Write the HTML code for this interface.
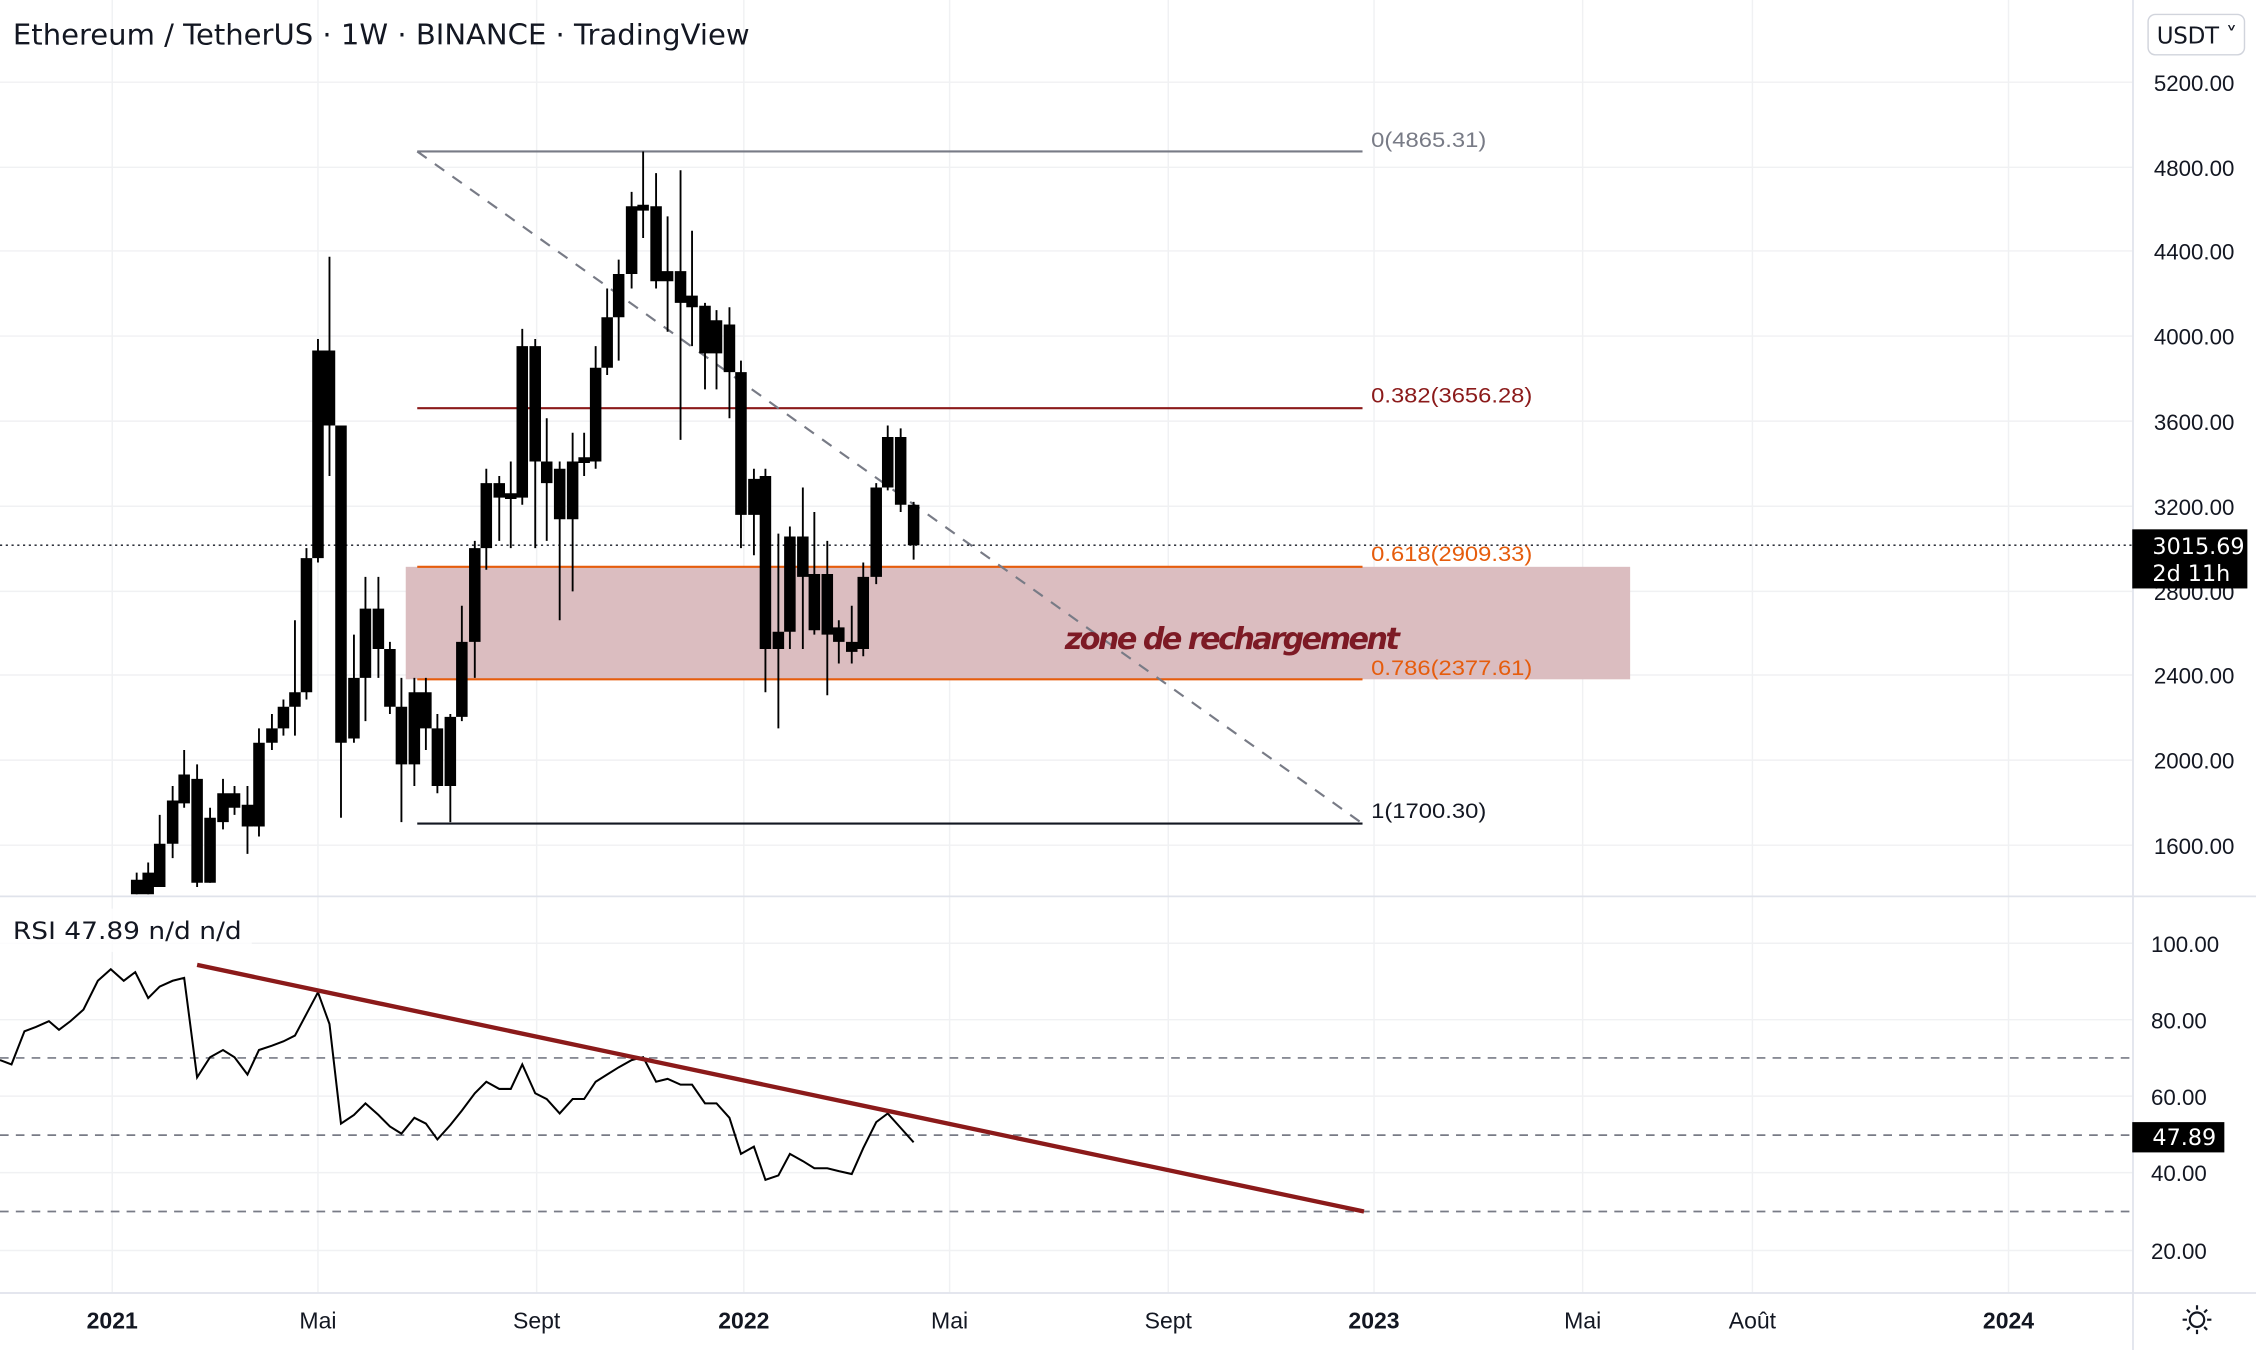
<!DOCTYPE html>
<html><head><meta charset="utf-8"><style>
html,body{margin:0;padding:0;background:#fff;}
svg{display:block;}
text{font-family:"Liberation Sans","DejaVu Sans",sans-serif;}
</style></head><body>
<svg width="2256" height="1350" viewBox="0 0 1568 936" preserveAspectRatio="none" xmlns="http://www.w3.org/2000/svg">
<rect width="1568" height="936" fill="#fff"/>
<g stroke="#f0f1f3" stroke-width="1">
<path d="M78 0V896M221 0V896M373 0V896M517 0V896M660 0V896M812 0V896M955 0V896M1100 0V896M1218 0V896M1396 0V896"/>
<path d="M0 57H1482M0 116H1482M0 174H1482M0 233H1482M0 292H1482M0 351H1482M0 410H1482M0 468H1482M0 527H1482M0 586H1482"/>
<path d="M0 654H1482M0 707H1482M0 760H1482M0 813H1482M0 867H1482"/>
</g>
<path d="M1482.5 0V936M0 621.5H1568M0 896.5H1568" stroke="#e0e3eb" stroke-width="1.2"/>
<rect x="282" y="393" width="851" height="78" fill="#d9b9bd" opacity="0.95"/>
<path d="M290 105H947" stroke="#787b86" stroke-width="1.5"/>
<path d="M290 283H947" stroke="#8b1a1a" stroke-width="1.5"/>
<path d="M290 393H947M290 471H947" stroke="#e65c0c" stroke-width="1.5"/>
<path d="M290 571H947" stroke="#131722" stroke-width="1.5"/>
<path d="M290 105L947 571" stroke="#787b86" stroke-width="1.5" stroke-dasharray="8,7"/>
<path d="M0 378H1482" stroke="#131722" stroke-width="1" stroke-dasharray="1.5,2.5"/>
<g stroke="#000" stroke-width="1.3" fill="none">
<path d="M95 605V620M103 598V620M111 565V615M120 545V595M128 520V560M137 530V615M146 560V612M155 540V575M163 545V565M172 545V592M180 505V580M189 495V520M197 485V510M205 430V510M213 380V485M221 235V390M229 178V330M237 295V567M246 440V515M254 400V500M263 400V470M271 445V495M279 470V570M288 470V545M296 470V520M304 495V550M313 495V570M321 420V500M330 375V470M338 325V395M347 330V375M355 320V380M363 228V350M372 235V380M380 290V375M389 320V430M398 300V410M406 300V330M414 240V325M422 200V260M430 180V250M439 133V200M447 105V165M456 120V200M464 150V230M473 118V305M481 160V240M490 210V270M498 215V270M507 213V290M515 250V380M524 325V385M532 325V480M541 370V505M549 365V450M558 338V450M566 355V440M575 375V482M583 430V460M592 420V460M600 390V455M609 335V405M617 295V340M626 297V355M635 348V388"/>
</g>
<path fill="#000" d="M91 610h8V620h-8zM99 605h8V620h-8zM107 585h8V615h-8zM116 555h8V585h-8zM124 537h8V557h-8zM133 540h8V612h-8zM142 567h8V612h-8zM151 550h8V570h-8zM159 550h8V560h-8zM168 558h8V573h-8zM176 515h8V573h-8zM185 505h8V515h-8zM193 490h8V505h-8zM201 480h8V490h-8zM209 387h8V480h-8zM217 243h8V387h-8zM225 243h8V295h-8zM233 295h8V515h-8zM242 470h8V512h-8zM250 422h8V470h-8zM259 422h8V450h-8zM267 450h8V490h-8zM275 490h8V530h-8zM284 480h8V530h-8zM292 480h8V505h-8zM300 505h8V545h-8zM309 497h8V545h-8zM317 445h8V497h-8zM326 380h8V445h-8zM334 335h8V380h-8zM343 335h8V345h-8zM351 342h8V346h-8zM359 240h8V345h-8zM368 240h8V320h-8zM376 320h8V335h-8zM385 325h8V360h-8zM394 320h8V360h-8zM402 317h8V321h-8zM410 255h8V320h-8zM418 220h8V255h-8zM426 190h8V220h-8zM435 143h8V190h-8zM443 142h8V146h-8zM452 143h8V195h-8zM460 188h8V195h-8zM469 188h8V210h-8zM477 205h8V213h-8zM486 212h8V245h-8zM494 222h8V245h-8zM503 225h8V258h-8zM511 258h8V357h-8zM520 332h8V357h-8zM528 330h8V450h-8zM537 438h8V450h-8zM545 372h8V438h-8zM554 372h8V400h-8zM562 398h8V437h-8zM571 398h8V440h-8zM579 435h8V445h-8zM588 445h8V452h-8zM596 400h8V450h-8zM605 338h8V400h-8zM613 303h8V338h-8zM622 303h8V350h-8zM631 350h8V378h-8z"/>
<g font-size="15" style="font-family:'Liberation Sans Narrow','Liberation Sans',sans-serif">
<text x="953" y="102" fill="#787b86" textLength="80" lengthAdjust="spacingAndGlyphs">0(4865.31)</text>
<text x="953" y="279" fill="#8b1a1a" textLength="112" lengthAdjust="spacingAndGlyphs">0.382(3656.28)</text>
<text x="953" y="389" fill="#e65c0c" textLength="112" lengthAdjust="spacingAndGlyphs">0.618(2909.33)</text>
<text x="953" y="468" fill="#e65c0c" textLength="112" lengthAdjust="spacingAndGlyphs">0.786(2377.61)</text>
<text x="953" y="567" fill="#131722" textLength="80" lengthAdjust="spacingAndGlyphs">1(1700.30)</text>
</g>
<text x="740" y="450" font-size="21" font-style="italic" font-weight="bold" fill="#7d1a25" style="font-family:'DejaVu Sans',sans-serif" textLength="233">zone de rechargement</text>
<text x="9" y="31" font-size="20" fill="#131722" style="font-family:'DejaVu Sans',sans-serif" textLength="512" lengthAdjust="spacingAndGlyphs">Ethereum / TetherUS · 1W · BINANCE · TradingView</text>
<rect x="1493" y="10" width="67" height="28" rx="5" fill="#fff" stroke="#d1d4dc"/>
<text x="1499" y="30" font-size="16" fill="#131722" style="font-family:'DejaVu Sans',sans-serif" textLength="56">USDT ˅</text>
<g font-size="15.5" fill="#131722" style="font-family:'DejaVu Sans',sans-serif">
<text x="1497" y="63">5200.00</text><text x="1497" y="122">4800.00</text><text x="1497" y="180">4400.00</text><text x="1497" y="239">4000.00</text><text x="1497" y="298">3600.00</text><text x="1497" y="357">3200.00</text><text x="1497" y="416">2800.00</text><text x="1497" y="474">2400.00</text><text x="1497" y="533">2000.00</text><text x="1497" y="592">1600.00</text>
<text x="1495" y="660">100.00</text><text x="1495" y="713">80.00</text><text x="1495" y="766">60.00</text><text x="1495" y="819">40.00</text><text x="1495" y="873">20.00</text>
</g>
<rect x="1482" y="367" width="80" height="41" fill="#000"/>
<text x="1496" y="384" font-size="15.5" fill="#fff" style="font-family:'DejaVu Sans',sans-serif">3015.69</text>
<text x="1496" y="403" font-size="15.5" fill="#fff" style="font-family:'DejaVu Sans',sans-serif">2d 11h</text>
<path d="M0 733.5H1482M0 787H1482M0 840H1482" stroke="#787b86" stroke-width="1.2" stroke-dasharray="6,5"/>
<path fill="none" stroke="#000" stroke-width="1.4" d="M0 735L8 738L17 715L25 712L34 708L41 714L49 708L58 700L68 680L77 672L86 680L94 674L103 692L111 684L120 680L128 678L137 747L146 733L155 728L163 733L172 745L180 728L189 725L197 722L205 718L213 703L221 688L229 710L237 779L246 773L254 765L263 773L271 781L279 786L288 775L296 779L304 790L313 780L321 770L330 758L338 750L347 755L355 755L363 738L372 758L380 762L389 772L398 762L406 762L414 750L422 745L430 740L439 735L447 733L456 750L464 748L473 752L481 752L490 765L498 765L507 775L515 800L524 795L532 818L541 815L549 800L558 805L566 810L575 810L583 812L592 814L600 796L609 778L617 772L626 782L635 792"/>
<path d="M137 669L948 840" stroke="#8b1a1a" stroke-width="3"/>
<rect x="0" y="630" width="175" height="30" fill="#fff" opacity="0.8"/>
<text x="9" y="651" font-size="16.5" fill="#131722" style="font-family:'DejaVu Sans',sans-serif" textLength="159" lengthAdjust="spacingAndGlyphs">RSI  47.89  n/d  n/d</text>
<rect x="1482" y="778" width="64" height="21" fill="#000"/>
<text x="1496" y="794" font-size="15.5" fill="#fff" style="font-family:'DejaVu Sans',sans-serif">47.89</text>
<g font-size="16" fill="#131722" text-anchor="middle" style="font-family:'DejaVu Sans',sans-serif">
<text x="78" y="921" font-weight="bold">2021</text><text x="221" y="921">Mai</text><text x="373" y="921">Sept</text><text x="517" y="921" font-weight="bold">2022</text><text x="660" y="921">Mai</text><text x="812" y="921">Sept</text><text x="955" y="921" font-weight="bold">2023</text><text x="1100" y="921">Mai</text><text x="1218" y="921">Août</text><text x="1396" y="921" font-weight="bold">2024</text>
</g>
<g stroke="#131722" stroke-width="1.5" fill="none"><circle cx="1527" cy="915" r="5"/><path d="M1527 905v3M1527 922v3M1517 915h3M1534 915h3M1520 908l2 2M1532 920l2 2M1520 922l2-2M1532 910l2-2"/></g>
</svg>
</body></html>
